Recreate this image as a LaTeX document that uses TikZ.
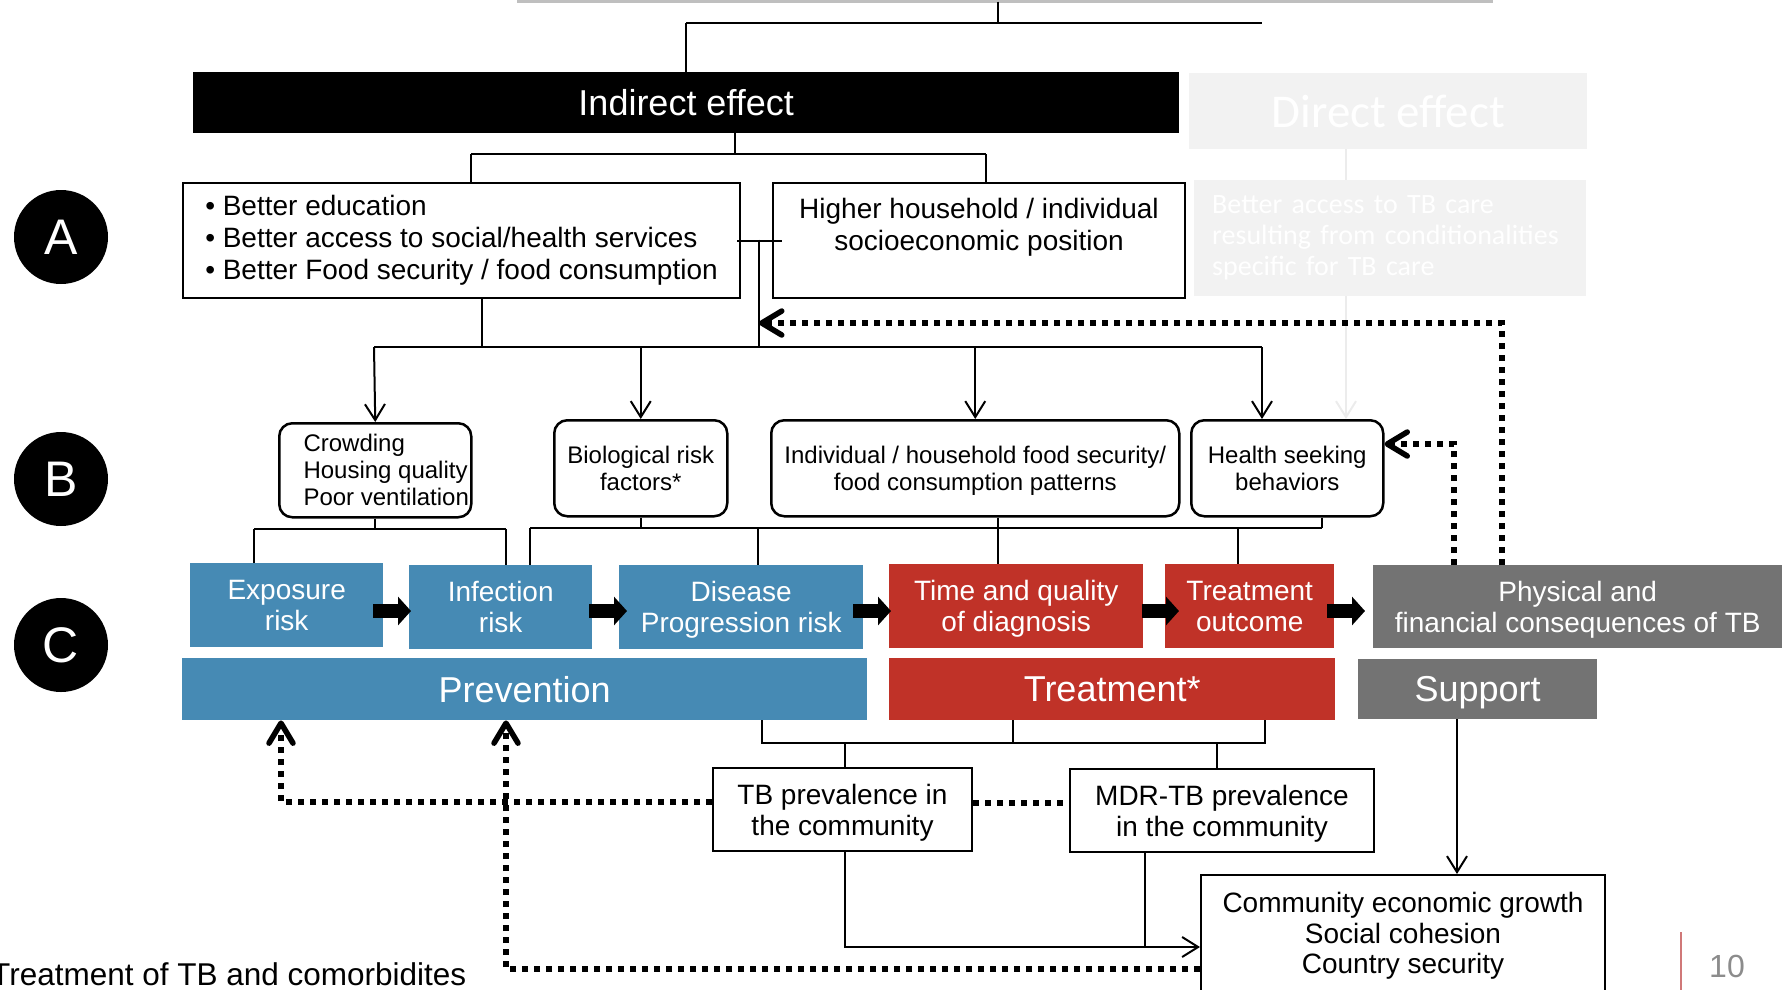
\documentclass[tikz,border=0pt]{standalone}
\usepackage{fontspec}
\setmainfont{Liberation Sans}
\newfontfamily\calib{Carlito}
\usetikzlibrary{arrows.meta,calc}
\definecolor{pblue}{RGB}{70,138,180}
\definecolor{pred}{RGB}{192,50,40}
\definecolor{pgray}{RGB}{115,115,115}
\definecolor{faint}{RGB}{242,242,242}
\definecolor{faintln}{RGB}{236,236,236}
\definecolor{topgray}{RGB}{191,191,191}
\definecolor{pgnum}{RGB}{140,140,140}
\definecolor{redline}{RGB}{208,120,120}
\newcommand\fpx[2]{\fontsize{#1pt}{#2pt}\selectfont}
\newcommand\nodp[1]{\raisebox{0pt}[\height][0pt]{#1}}
\begin{document}
\begin{tikzpicture}[x=1pt,y=-1pt,
  ln/.style={line width=2pt},
  arr/.style={line width=2pt,-{Straight Barb[length=16pt,width=20pt]}},
  dots/.style={line width=5.5pt,dash pattern=on 6pt off 6pt},
  dotarr/.style={dots,-{Straight Barb[length=20pt,width=24pt,round]}},
  blk/.style={line width=14pt,-{Triangle[length=13pt,width=28pt]}},
  nw/.style={anchor=north west, inner sep=0pt},
  wbox/.style={nw, draw, line width=2pt, fill=white, align=center, font=\fpx{28}{32}},
  rbox/.style={nw, draw, line width=2.5pt, rounded corners=13pt, fill=white, align=center, font=\fpx{24}{27}},
  cb/.style={nw, text=white, align=center, font=\fpx{28}{31}},
  bar/.style={nw, text=white, font=\fpx{36}{40}},
  lett/.style={circle, fill=black, minimum size=94pt, inner sep=0pt, text=white, font=\fpx{50}{50}}
]
\useasboundingbox (0,0) rectangle (1791,989);

% ---------- top ----------
\coordinate (gL) at (517,1.5);
\coordinate (gR) at (1493,1.5);
\draw[topgray, line width=3pt] (gL) -- (gR);

\node[nw, fill=black, text=white, minimum width=986pt, minimum height=61pt, font=\fpx{36}{40}] (ind) at (193,72) {Indirect effect};
\node[nw, fill=faint, text=white, minimum width=398pt, minimum height=76pt, font=\calib\fpx{47}{50}] (dir) at (1189,73) {Direct effect};
\node[nw, fill=faint, text=white, minimum width=392pt, minimum height=116pt, text width=356pt, align=left, font=\calib\fpx{28}{31}] (tbc) at (1194,180) {Better access to TB care\\resulting from conditionalities\\specific for TB care};

% ---------- level A ----------
\node[lett] (cA) at (61,237) {A};
\node[lett] (cB) at (61,479) {B};
\node[lett] (cC) at (61,645) {C};

\node[wbox, minimum width=557pt, minimum height=115pt, align=left] (a1) at (182,182) {\textbullet\ Better education\\\textbullet\ Better access to social/health services\\\textbullet\ Better Food security / food consumption};
\node[wbox, minimum width=412pt, minimum height=115pt] (a2) at (772,182) {Higher household / individual\\socioeconomic position\\\mbox{}};

% ---------- level B ----------
\node[rbox, minimum width=192pt, minimum height=94pt, align=left] (crowd) at (278,422) {\hspace*{22pt}Crowding\\\hspace*{22pt}Housing quality\\\hspace*{22pt}Poor ventilation};
\node[rbox, minimum width=173pt, minimum height=96pt] (bio) at (553,419) {Biological risk\\factors*};
\node[rbox, minimum width=408pt, minimum height=96pt] (indiv) at (770,419) {Individual / household food security/\\\nodp{food consumption patterns}};
\node[rbox, minimum width=192pt, minimum height=96pt] (health) at (1190,419) {Health seeking\\behaviors};

% ---------- level C ----------
\node[cb, fill=pblue, minimum width=193pt, minimum height=84pt] (exp) at (190,563) {Exposure\\risk};
\node[cb, fill=pblue, minimum width=183pt, minimum height=84pt] (inf) at (409,565) {Infection\\risk};
\node[cb, fill=pblue, minimum width=244pt, minimum height=84pt] (dis) at (619,565) {Disease\\\nodp{Progression risk}};
\node[cb, fill=pred, minimum width=254pt, minimum height=84pt] (tq) at (889,564) {Time and quality\\\nodp{of diagnosis}};
\node[cb, fill=pred, minimum width=169pt, minimum height=84pt] (to) at (1165,564) {Treatment\\outcome};
\node[cb, fill=pgray, minimum width=409pt, minimum height=83pt] (phys) at (1373,565) {Physical and\\\nodp{financial consequences of TB}};

\node[bar, fill=pblue, minimum width=685pt, minimum height=62pt] (prev) at (182,658) {Prevention};
\node[bar, fill=pred, minimum width=446pt, minimum height=62pt] (treat) at (889,658) {Treatment*};
\node[bar, fill=pgray, minimum width=239pt, minimum height=60pt] (supp) at (1358,659) {\nodp{Support}};

% ---------- bottom ----------
\node[wbox, minimum width=259pt, minimum height=83pt, font=\fpx{28}{31}] (tbp) at (712,767) {TB prevalence in\\\nodp{the community}};
\node[wbox, minimum width=304pt, minimum height=83pt, font=\fpx{28}{31}] (mdr) at (1069,768) {MDR-TB prevalence\\\nodp{in the community}};
\node[wbox, minimum width=404pt, minimum height=116pt, font=\fpx{28}{30.5}] (comm) at (1200,874) {Community economic growth\\Social cohesion\\\nodp{Country security}};

\node[anchor=base west, inner sep=0pt, font=\fpx{31.5}{34}] (foot) at (-9,985) {Treatment of TB and comorbidites};
\node[inner sep=0pt, text=pgnum, font=\fpx{32}{34}] (pg) at (1727,966) {10};
\coordinate (r1) at (1681,932);
\coordinate (r2) at (1681,992);
\draw[redline, line width=1.5pt] (r1) -- (r2);

% ---------- connectors: top ----------
\coordinate (t1) at (998,23);
\coordinate (t2) at (686,23);
\coordinate (t3) at (1262,23);
\draw[ln] (t1 |- gL) -- (t1);
\draw[ln] (t2) -- (t3);
\draw[ln] (t2) -- (t2 |- ind.north);

\coordinate (j1) at (735,154);
\coordinate (j1L) at (471,154);
\coordinate (j1R) at (986,154);
\draw[ln] (ind.south -| j1) -- (j1);
\draw[ln] (j1L) -- (j1R);
\draw[ln] (j1L) -- (j1L |- a1.north);
\draw[ln] (j1R) -- (j1R |- a2.north);

% faint direct-effect lines
\coordinate (fx) at (1346,0);
\draw[faintln, line width=2pt] (dir.south -| fx) -- (tbc.north -| fx);
\draw[faintln, line width=2pt, -{Straight Barb[length=16pt,width=20pt]}] (tbc.south -| fx) -- (health.north -| fx);

% A1 - A2 link and distribution
\draw[ln] ($(a1.east)+(-4,0)$) -- ($(a2.west)+(10,0)$);
\coordinate (j2) at (759,239.5);
\coordinate (d0) at (482,347);
\coordinate (dL) at (374,347);
\coordinate (dR) at (1262,347);
\draw[ln] (j2) -- (j2 |- dL);
\draw[ln] (a1.south -| d0) -- (d0);
\draw[ln] (dL) -- (dR);
\draw[arr] (dL) -- (crowd.north);
\draw[arr] (bio.north |- dL) -- (bio.north);
\draw[arr] (indiv.north |- dL) -- (indiv.north);
\draw[arr] (dR) -- (dR |- health.north);

% B -> C
\coordinate (c1L) at (254,529);
\coordinate (c1R) at (506,529);
\draw[ln] (crowd.south) -- (crowd.south |- c1L);
\draw[ln] (c1L) -- (c1R);
\draw[ln] (c1L) -- (c1L |- exp.north);
\draw[ln] (c1R) -- (c1R |- inf.north);
\coordinate (c2L) at (530,528);
\coordinate (c2R) at (1322,528);
\coordinate (c2a) at (998,528);
\coordinate (c2b) at (758,528);
\coordinate (c2c) at (1238,528);
\draw[ln] (c2L) -- (c2R);
\draw[ln] (bio.south) -- (bio.south |- c2L);
\draw[ln] (c2R |- health.south) -- (c2R);
\draw[ln] (c2a |- indiv.south) -- (c2a |- tq.north);
\draw[ln] (c2L) -- (c2L |- inf.north);
\draw[ln] (c2b) -- (c2b |- dis.north);
\draw[ln] (c2c) -- (c2c |- to.north);

% block arrows
\coordinate (ay) at (0,611);
\draw[blk] ($(exp.east|-ay)+(-10,0)$) -- ($(inf.west|-ay)+(2,0)$);
\draw[blk] ($(inf.east|-ay)+(-3,0)$) -- ($(dis.west|-ay)+(8,0)$);
\draw[blk] ($(dis.east|-ay)+(-10,0)$) -- ($(tq.west|-ay)+(2,0)$);
\draw[blk] ($(tq.east|-ay)+(-1,0)$) -- ($(to.west|-ay)+(14,0)$);
\draw[blk] ($(to.east|-ay)+(-7,0)$) -- ($(phys.west|-ay)+(-8,0)$);

% bars -> prevalence boxes
\coordinate (b1L) at (762,743);
\coordinate (b1R) at (1265,743);
\coordinate (b1m) at (1013,743);
\coordinate (b1a) at (845,743);
\coordinate (b1b) at (1217,743);
\draw[ln] (b1L |- prev.south) -- (b1L) -- (b1R) -- (b1R |- treat.south);
\draw[ln] (b1m |- treat.south) -- (b1m);
\draw[ln] (b1a) -- (b1a |- tbp.north);
\draw[ln] (b1b) -- (b1b |- mdr.north);
\coordinate (e1) at (845,947);
\coordinate (e2) at (1145,947);
\draw[arr] (e1 |- tbp.south) -- (e1) -- (e1 -| comm.west);
\draw[ln] (e2 |- mdr.south) -- (e2);
\coordinate (sx) at (1457,800);
\draw[arr] (supp.south -| sx) -- (comm.north -| sx);

% dotted feedback
\coordinate (p1) at (281,802);
\coordinate (p2) at (506,969);
\coordinate (p3) at (0,803);
\draw[dotarr] (tbp.west |- p1) -- (p1) -- (p1 |- prev.south);
\draw[dotarr] (comm.west |- p2) -- (p2) -- (p2 |- prev.south);
\draw[dots] (tbp.east |- p3) -- (mdr.west |- p3);
\coordinate (q1) at (1502,323);
\coordinate (q2) at (1454,444);
\draw[dotarr] (phys.north -| q1) -- (q1) -- (j2 |- q1);
\draw[dotarr] (phys.north -| q2) -- (q2) -- (health.east |- q2);
\end{tikzpicture}
\end{document}
